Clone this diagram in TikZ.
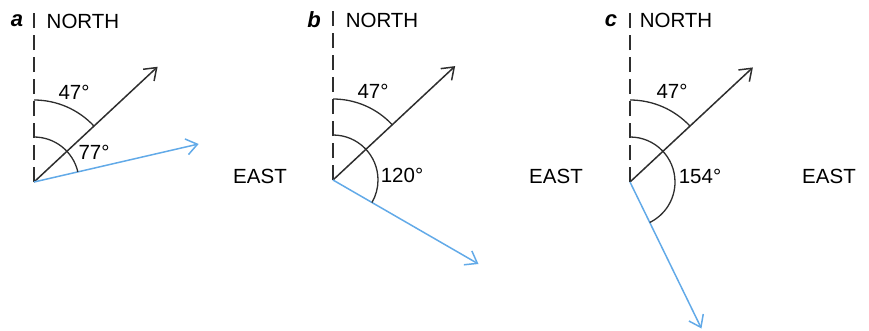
\documentclass[tikz,border=0pt]{standalone}
\usepackage{fontspec}
\setmainfont{Liberation Sans}
\usetikzlibrary{arrows.meta,calc}
\definecolor{ink}{HTML}{2E2E2E}
\definecolor{skyblue}{HTML}{62AAE8}
\begin{document}
\begin{tikzpicture}[x=1pt,y=1pt,
  north/.style={ink,line width=1.5pt,dash pattern=on 15pt off 7pt},
  vec/.style={line width=1.5pt,-{Straight Barb[length=11pt,width=16pt,line width=1.5pt]}},
  blackvec/.style={vec,ink},
  bluevec/.style={vec,skyblue},
  anglearc/.style={ink,line width=1.3pt},
  lbl/.style={inner sep=0pt,font=\fontsize{20.5}{22}\selectfont},
  panel/.style={inner sep=0pt,font=\fontsize{22}{23}\selectfont\bfseries\itshape}]
\useasboundingbox (0,0) rectangle (869,-330);

% ---------- panel a ----------
\coordinate (Oa) at (34,-182);
\coordinate (Na) at (34,-12);
\coordinate (Ba) at ($(Oa)+(43:169)$);
\coordinate (Ca) at ($(Oa)+(13:169)$);
\draw[north] (Oa) -- (Na);
\draw[blackvec] (Oa) -- (Ba);
\draw[bluevec] (Oa) -- (Ca);
\draw[anglearc] (Oa) ++(90:82) arc[start angle=90,end angle=43,radius=82];
\draw[anglearc] (Oa) ++(90:45) arc[start angle=90,end angle=13,radius=45];
\node[panel] (la) at (17,-21) {a};
\node[lbl] (na) at (83,-21) {NORTH};
\node[lbl] (ea) at (260,-176) {EAST};
\node[lbl] (a47) at (74,-92) {47°};
\node[lbl] (a77) at (94,-152) {77°};

% ---------- panel b ----------
\coordinate (Ob) at (333,-180);
\coordinate (Nb) at (333,-10);
\coordinate (Bb) at ($(Ob)+(43:167)$);
\coordinate (Cb) at ($(Ob)+(-30:168)$);
\draw[north] (Ob) -- (Nb);
\draw[blackvec] (Ob) -- (Bb);
\draw[bluevec] (Ob) -- (Cb);
\draw[anglearc] (Ob) ++(90:81) arc[start angle=90,end angle=43,radius=81];
\draw[anglearc] (Ob) ++(90:45) arc[start angle=90,end angle=-30,radius=45];
\node[panel] (lb) at (314,-20) {b};
\node[lbl] (nb) at (382,-20) {NORTH};
\node[lbl] (eb) at (556,-176) {EAST};
\node[lbl] (b47) at (373,-91) {47°};
\node[lbl] (b120) at (402,-175) {120°};

% ---------- panel c ----------
\coordinate (Oc) at (630,-182);
\coordinate (Nc) at (630,-12);
\coordinate (Bc) at ($(Oc)+(43:168)$);
\coordinate (Cc) at ($(Oc)+(-64:163)$);
\draw[north] (Oc) -- (Nc);
\draw[blackvec] (Oc) -- (Bc);
\draw[bluevec] (Oc) -- (Cc);
\draw[anglearc] (Oc) ++(90:82) arc[start angle=90,end angle=43,radius=82];
\draw[anglearc] (Oc) ++(90:45) arc[start angle=90,end angle=-64,radius=45];
\node[panel] (lc) at (611,-21) {c};
\node[lbl] (nc) at (676,-20) {NORTH};
\node[lbl] (ec) at (829,-176) {EAST};
\node[lbl] (c47) at (672,-91) {47°};
\node[lbl] (c154) at (700,-176) {154°};
\end{tikzpicture}
\end{document}
